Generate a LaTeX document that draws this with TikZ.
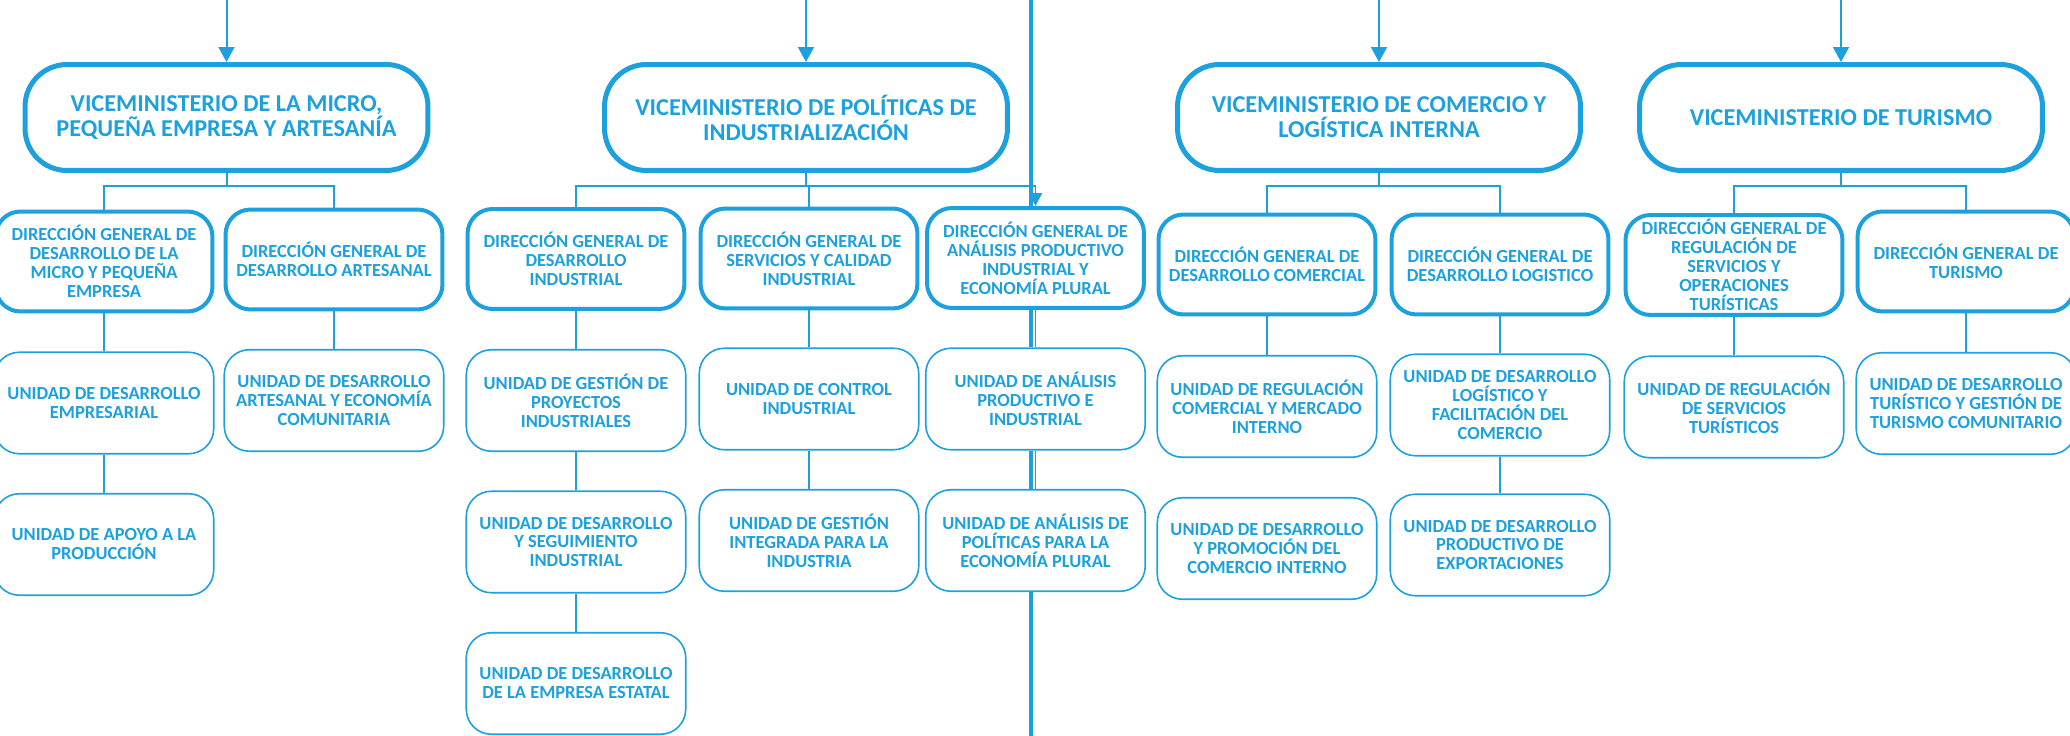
\documentclass[tikz,border=0pt]{standalone}
\usepackage{fontspec}
\setmainfont{Carlito}
\usetikzlibrary{arrows.meta}
\definecolor{orgblue}{RGB}{29,161,222}
\newcommand\vmtextfont{\fontsize{13.8}{14.2}\selectfont\bfseries\lineskiplimit=-100pt\relax}
\newcommand\dgtextfont{\fontsize{10.5}{10.8}\selectfont\bfseries\lineskiplimit=-100pt\relax}
\begin{document}
\begin{tikzpicture}[x=0.02cm,y=-0.02cm,
  vmbox/.style={draw=orgblue, line width=0.1cm, fill=white, rounded corners=0.84cm, minimum width=8.06cm, minimum height=2.12cm, inner sep=0pt, align=center, text=orgblue, font=\vmtextfont},
  dgbox/.style={draw=orgblue, line width=0.08cm, fill=white, rounded corners=0.5cm, minimum width=4.34cm, minimum height=2.0cm, inner sep=0pt, align=center, text=orgblue, font=\dgtextfont},
  unitbox/.style={draw=orgblue, line width=0.032cm, fill=white, rounded corners=0.5cm, minimum width=4.39cm, minimum height=2.03cm, inner sep=0pt, align=center, text=orgblue, font=\dgtextfont},
  conn/.style={draw=orgblue, line width=0.032cm},
  stub/.style={draw=orgblue, line width=0.04cm},
  inarrow/.style={draw=orgblue, line width=0.04cm, -{Triangle[width=0.32cm,length=0.3cm]}},
  sidearrow/.style={draw=orgblue, line width=0.032cm, -{Triangle[width=0.26cm,length=0.26cm]}},
  spine/.style={draw=orgblue, line width=0.09cm}]
\useasboundingbox (0,0) rectangle (2070,736);
\clip (0,0) rectangle (2070,736);
\coordinate (top) at (0,0);
\coordinate (hb) at (0,186);
\coordinate (sp1) at (1031,0);
\coordinate (sp2) at (1031,736);

% Viceministerios
\node[vmbox] (vm1) at (226.5,117.5) {VICEMINISTERIO DE LA MICRO,\\PEQUEÑA EMPRESA Y ARTESANÍA};
\node[vmbox] (vm2) at (806,117.5) {VICEMINISTERIO DE POLÍTICAS DE\\INDUSTRIALIZACIÓN};
\node[vmbox] (vm3) at (1379,117.5) {VICEMINISTERIO DE COMERCIO Y\\LOGÍSTICA INTERNA};
\node[vmbox] (vm4) at (1841,117.5) {VICEMINISTERIO DE TURISMO};

% Direcciones generales
\node[dgbox] (dg1a) at (104,261.5) {DIRECCIÓN GENERAL DE\\DESARROLLO DE LA\\MICRO Y PEQUEÑA\\EMPRESA};
\node[dgbox] (dg1b) at (334,259.5) {DIRECCIÓN GENERAL DE\\DESARROLLO ARTESANAL};
\node[dgbox] (dg2a) at (576,259) {DIRECCIÓN GENERAL DE\\DESARROLLO\\INDUSTRIAL};
\node[dgbox] (dg2b) at (809,258.5) {DIRECCIÓN GENERAL DE\\SERVICIOS Y CALIDAD\\INDUSTRIAL};
\node[dgbox] (dg2c) at (1035.5,258) {DIRECCIÓN GENERAL DE\\ANÁLISIS PRODUCTIVO\\INDUSTRIAL Y\\ECONOMÍA PLURAL};
\node[dgbox] (dg3a) at (1267,264.5) {DIRECCIÓN GENERAL DE\\DESARROLLO COMERCIAL};
\node[dgbox] (dg3b) at (1500,264.5) {DIRECCIÓN GENERAL DE\\DESARROLLO LOGISTICO};
\node[dgbox] (dg4a) at (1734,265) {DIRECCIÓN GENERAL DE\\REGULACIÓN DE\\SERVICIOS Y\\OPERACIONES\\TURÍSTICAS};
\node[dgbox] (dg4b) at (1966,261.5) {DIRECCIÓN GENERAL DE\\TURISMO};

% Unidades
\node[unitbox] (u1a) at (104,403) {UNIDAD DE DESARROLLO\\EMPRESARIAL};
\node[unitbox] (u1b) at (334,400.5) {UNIDAD DE DESARROLLO\\ARTESANAL Y ECONOMÍA\\COMUNITARIA};
\node[unitbox] (u1c) at (104,544.5) {UNIDAD DE APOYO A LA\\PRODUCCIÓN};
\node[unitbox] (u2a) at (576,400.5) {UNIDAD DE GESTIÓN DE\\PROYECTOS\\INDUSTRIALES};
\node[unitbox] (u2b) at (809,399) {UNIDAD DE CONTROL\\INDUSTRIAL};
\node[unitbox] (u2c) at (1035.5,399) {UNIDAD DE ANÁLISIS\\PRODUCTIVO E\\INDUSTRIAL};
\node[unitbox] (u2d) at (576,542) {UNIDAD DE DESARROLLO\\Y SEGUIMIENTO\\INDUSTRIAL};
\node[unitbox] (u2e) at (809,540.5) {UNIDAD DE GESTIÓN\\INTEGRADA PARA LA\\INDUSTRIA};
\node[unitbox] (u2f) at (1035.5,540.5) {UNIDAD DE ANÁLISIS DE\\POLÍTICAS PARA LA\\ECONOMÍA PLURAL};
\node[unitbox] (u2g) at (576,683.5) {UNIDAD DE DESARROLLO\\DE LA EMPRESA ESTATAL};
\node[unitbox] (u3a) at (1267,406.5) {UNIDAD DE REGULACIÓN\\COMERCIAL Y MERCADO\\INTERNO};
\node[unitbox] (u3b) at (1500,405) {UNIDAD DE DESARROLLO\\LOGÍSTICO Y\\FACILITACIÓN DEL\\COMERCIO};
\node[unitbox] (u3c) at (1267,548.5) {UNIDAD DE DESARROLLO\\Y PROMOCIÓN DEL\\COMERCIO INTERNO};
\node[unitbox] (u3d) at (1500,545) {UNIDAD DE DESARROLLO\\PRODUCTIVO DE\\EXPORTACIONES};
\node[unitbox] (u4a) at (1734,407) {UNIDAD DE REGULACIÓN\\DE SERVICIOS\\TURÍSTICOS};
\node[unitbox] (u4b) at (1966,403.5) {UNIDAD DE DESARROLLO\\TURÍSTICO Y GESTIÓN DE\\TURISMO COMUNITARIO};

% vertical rule passing behind the third column of the industrialisation branch
\draw[spine] (sp1) -- (sp1 |- dg2c.north);
\draw[spine] (sp1 |- dg2c.south) -- (sp1 |- u2c.north);
\draw[spine] (sp1 |- u2c.south) -- (sp1 |- u2f.north);
\draw[spine] (sp1 |- u2f.south) -- (sp2);

% incoming arrows from above
\draw[inarrow] (vm1.north |- top) -- (vm1.north);
\draw[inarrow] (vm2.north |- top) -- (vm2.north);
\draw[inarrow] (vm3.north |- top) -- (vm3.north);
\draw[inarrow] (vm4.north |- top) -- (vm4.north);

% viceministerio -> direcciones
\coordinate (h1) at (vm1.south |- hb);
\coordinate (h2) at (vm2.south |- hb);
\coordinate (h3) at (vm3.south |- hb);
\coordinate (h4) at (vm4.south |- hb);
\draw[stub] (vm1.south) -- (h1);
\draw[stub] (vm2.south) -- (h2);
\draw[stub] (vm3.south) -- (h3);
\draw[stub] (vm4.south) -- (h4);
\draw[conn] (dg1a.north) |- (h1) -| (dg1b.north);
\draw[conn] (dg2a.north) |- (h2) -- (h2 -| dg2c.north);
\draw[conn] (dg2b.north) -- (dg2b.north |- h2);
\draw[sidearrow] (h2 -| dg2c.north) -- (dg2c.north);
\draw[conn] (dg3a.north) |- (h3) -| (dg3b.north);
\draw[conn] (dg4a.north) |- (h4) -| (dg4b.north);

% direcciones -> unidades
\draw[conn] (dg1a.south) -- (u1a.north);
\draw[conn] (u1a.south) -- (u1c.north);
\draw[conn] (dg1b.south) -- (u1b.north);
\draw[conn] (dg2a.south) -- (u2a.north);
\draw[conn] (u2a.south) -- (u2d.north);
\draw[conn] (u2d.south) -- (u2g.north);
\draw[conn] (dg2b.south) -- (u2b.north);
\draw[conn] (u2b.south) -- (u2e.north);
\draw[conn] (dg2c.south) -- (u2c.north);
\draw[conn] (u2c.south) -- (u2f.north);
\draw[conn] (dg3a.south) -- (u3a.north);
\draw[conn] (dg3b.south) -- (u3b.north);
\draw[conn] (u3b.south) -- (u3d.north);
\draw[conn] (dg4a.south) -- (u4a.north);
\draw[conn] (dg4b.south) -- (u4b.north);
\end{tikzpicture}
\end{document}
